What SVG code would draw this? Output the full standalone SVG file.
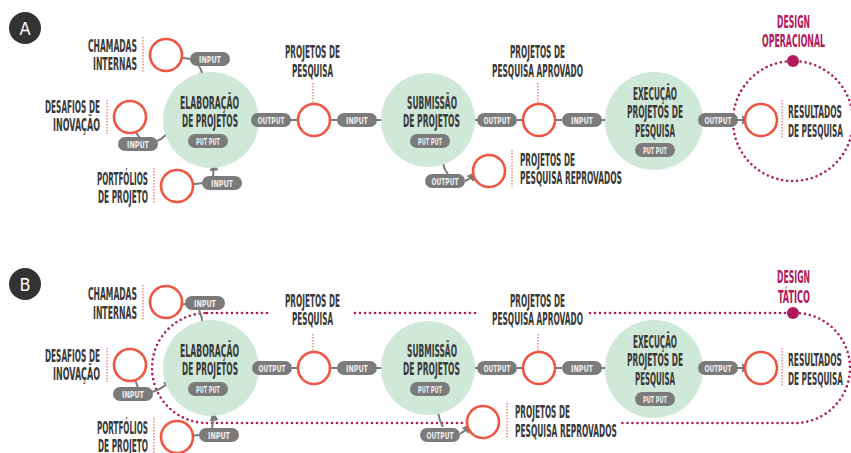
<svg xmlns="http://www.w3.org/2000/svg" width="851" height="453" viewBox="0 0 851 453">
<defs>
<marker id="ah" markerUnits="userSpaceOnUse" markerWidth="11" markerHeight="11" refX="9" refY="5.5" orient="auto">
<path d="M0,1 L10,5.5 L0,10 z" fill="#7b7b7b"/>
</marker>
</defs>
<style>
.lbl{font-family:"DejaVu Sans Condensed","DejaVu Sans",sans-serif;font-stretch:condensed;font-weight:bold;font-size:17px;fill:#383838}
.mg{fill:#b3185a}
.pt{font-family:"DejaVu Sans Condensed","DejaVu Sans",sans-serif;font-stretch:condensed;font-weight:bold;font-size:9px;fill:#eeeeee;text-anchor:middle}
.pill{fill:#7b7b7b}
.green{fill:#cfe8d8}
.red{fill:#ffffff;stroke:#ef5540;stroke-width:2.6}
.vd{stroke:#f08a7a;stroke-width:1.5;stroke-dasharray:1.5 1.5;fill:none}
.ln{fill:none;stroke:#7b7b7b;stroke-width:2}
.arr{fill:none;stroke:#7b7b7b;stroke-width:2;marker-end:url(#ah)}
.mag{fill:none;stroke:#b3185a;stroke-width:2.6;stroke-dasharray:0 5;stroke-linecap:round}
.badge{font-family:"DejaVu Sans Condensed","DejaVu Sans",sans-serif;font-size:18px;fill:#ffffff;text-anchor:middle}
</style>
<rect width="851" height="453" fill="#ffffff"/>

<!-- ================= PANEL A ================= -->
<g id="panel-a">
<g id="scope-a">
<circle cx="793" cy="121" r="60" class="mag"/>
<circle cx="793" cy="61" r="6" fill="#b3185a"/>
<text class="lbl mg" x="777" y="28" textLength="33" lengthAdjust="spacingAndGlyphs">DESIGN</text>
<text class="lbl mg" x="762" y="47" textLength="63" lengthAdjust="spacingAndGlyphs">OPERACIONAL</text>
</g>
<g id="badge-a"><circle cx="25" cy="28" r="16" fill="#333333"/><text class="badge" x="25" y="35">A</text></g>

<g id="connectors-a">
<path class="ln" d="M176,57 L191,59"/>
<path class="arr" d="M199,66 Q203,72 203,82"/>
<path class="ln" d="M133,125 Q136,134 140,138"/>
<path class="arr" d="M157,141 Q166,138 173,124"/>
<path class="ln" d="M187,185 L203,183"/>
<path class="arr" d="M213,177 Q214,170 213,162"/>
<path class="ln" d="M246,120 L291,120"/>
<path class="ln" d="M290,120 L298,120"/>
<path class="ln" d="M330,120 L338,120"/>
<path class="arr" d="M376,120 L391,120"/>
<path class="ln" d="M470,120 L478,120"/>
<path class="ln" d="M517,120 L523,120"/>
<path class="ln" d="M555,120 L562,120"/>
<path class="arr" d="M601,120 L615,120"/>
<path class="ln" d="M702,120 L706,120"/>
<path class="arr" d="M737,120 L751,120"/>
<path class="ln" d="M443,162 Q444,170 448,174"/>
<path class="arr" d="M465,181 Q470,179 476,172"/>
</g>

<g id="chamadas-a">
<text class="lbl" x="88" y="52" textLength="49" lengthAdjust="spacingAndGlyphs">CHAMADAS</text>
<text class="lbl" x="93" y="70" textLength="44" lengthAdjust="spacingAndGlyphs">INTERNAS</text>
<line class="vd" x1="143" y1="37" x2="143" y2="72"/>
<circle class="red" cx="166" cy="55" r="16"/>
<rect class="pill" x="190" y="52" width="40" height="14" rx="7"/><text class="pt" x="210" y="62.5" textLength="22" lengthAdjust="spacingAndGlyphs">INPUT</text>
</g>
<g id="desafios-a">
<text class="lbl" x="45" y="113" textLength="55" lengthAdjust="spacingAndGlyphs">DESAFIOS DE</text>
<text class="lbl" x="53" y="131" textLength="47" lengthAdjust="spacingAndGlyphs">INOVAÇÃO</text>
<line class="vd" x1="107" y1="100" x2="107" y2="134"/>
<circle class="red" cx="130" cy="117" r="16"/>
<rect class="pill" x="118" y="137" width="40" height="14" rx="7"/><text class="pt" x="138" y="147.5" textLength="22" lengthAdjust="spacingAndGlyphs">INPUT</text>
</g>
<g id="portfolios-a">
<text class="lbl" x="97" y="185" textLength="51" lengthAdjust="spacingAndGlyphs">PORTFÓLIOS</text>
<text class="lbl" x="98" y="203" textLength="50" lengthAdjust="spacingAndGlyphs">DE PROJETO</text>
<line class="vd" x1="154" y1="168" x2="154" y2="203"/>
<circle class="red" cx="177" cy="186" r="16"/>
<rect class="pill" x="202" y="176" width="40" height="14" rx="7"/><text class="pt" x="222" y="186.5" textLength="22" lengthAdjust="spacingAndGlyphs">INPUT</text>
</g>
<g id="elaboracao-a">
<circle class="green" cx="211" cy="120" r="48"/>
<text class="lbl" x="180" y="109" textLength="59" lengthAdjust="spacingAndGlyphs">ELABORAÇÃO</text>
<text class="lbl" x="182" y="127" textLength="56" lengthAdjust="spacingAndGlyphs">DE PROJETOS</text>
<rect class="pill" x="188" y="134" width="40" height="14" rx="7"/><text class="pt" x="208" y="144.5" textLength="24" lengthAdjust="spacingAndGlyphs">PUT PUT</text>
<rect class="pill" x="251" y="113" width="40" height="14" rx="7"/><text class="pt" x="271" y="123.5" textLength="27" lengthAdjust="spacingAndGlyphs">OUTPUT</text>
</g>
<g id="projetos-pesquisa-a">
<text class="lbl" x="285" y="58" textLength="55" lengthAdjust="spacingAndGlyphs">PROJETOS DE</text>
<text class="lbl" x="292" y="77" textLength="41" lengthAdjust="spacingAndGlyphs">PESQUISA</text>
<line class="vd" x1="313" y1="83" x2="313" y2="103"/>
<circle class="red" cx="314" cy="120" r="16"/>
<rect class="pill" x="337" y="113" width="40" height="14" rx="7"/><text class="pt" x="357" y="123.5" textLength="22" lengthAdjust="spacingAndGlyphs">INPUT</text>
</g>
<g id="submissao-a">
<circle class="green" cx="428" cy="120" r="47"/>
<text class="lbl" x="407" y="109" textLength="50" lengthAdjust="spacingAndGlyphs">SUBMISSÃO</text>
<text class="lbl" x="403" y="127" textLength="57" lengthAdjust="spacingAndGlyphs">DE PROJETOS</text>
<rect class="pill" x="410" y="134" width="40" height="14" rx="7"/><text class="pt" x="430" y="144.5" textLength="24" lengthAdjust="spacingAndGlyphs">PUT PUT</text>
<rect class="pill" x="477" y="113" width="40" height="14" rx="7"/><text class="pt" x="497" y="123.5" textLength="27" lengthAdjust="spacingAndGlyphs">OUTPUT</text>
<rect class="pill" x="425" y="174" width="40" height="14" rx="7"/><text class="pt" x="445" y="184.5" textLength="27" lengthAdjust="spacingAndGlyphs">OUTPUT</text>
</g>
<g id="aprovado-a">
<text class="lbl" x="510" y="58" textLength="55" lengthAdjust="spacingAndGlyphs">PROJETOS DE</text>
<text class="lbl" x="492" y="77" textLength="91" lengthAdjust="spacingAndGlyphs">PESQUISA APROVADO</text>
<line class="vd" x1="538" y1="83" x2="538" y2="103"/>
<circle class="red" cx="539" cy="120" r="16"/>
<rect class="pill" x="562" y="113" width="40" height="14" rx="7"/><text class="pt" x="582" y="123.5" textLength="22" lengthAdjust="spacingAndGlyphs">INPUT</text>
</g>
<g id="reprovados-a">
<circle class="red" cx="489" cy="171" r="16"/>
<line class="vd" x1="512" y1="150" x2="512" y2="187"/>
<text class="lbl" x="520" y="166" textLength="55" lengthAdjust="spacingAndGlyphs">PROJETOS DE</text>
<text class="lbl" x="520" y="184" textLength="102" lengthAdjust="spacingAndGlyphs">PESQUISA REPROVADOS</text>
</g>
<g id="execucao-a">
<circle class="green" cx="654" cy="121" r="49"/>
<text class="lbl" x="633" y="100" textLength="44" lengthAdjust="spacingAndGlyphs">EXECUÇÃO</text>
<text class="lbl" x="627" y="118" textLength="56" lengthAdjust="spacingAndGlyphs">PROJETOS DE</text>
<text class="lbl" x="635" y="137" textLength="40" lengthAdjust="spacingAndGlyphs">PESQUISA</text>
<rect class="pill" x="635" y="143" width="40" height="14" rx="7"/><text class="pt" x="655" y="153.5" textLength="24" lengthAdjust="spacingAndGlyphs">PUT PUT</text>
<rect class="pill" x="698" y="113" width="40" height="14" rx="7"/><text class="pt" x="718" y="123.5" textLength="27" lengthAdjust="spacingAndGlyphs">OUTPUT</text>
</g>
<g id="resultados-a">
<circle class="red" cx="761" cy="120" r="16"/>
<line class="vd" x1="782" y1="100" x2="782" y2="138"/>
<text class="lbl" x="788" y="118" textLength="54" lengthAdjust="spacingAndGlyphs">RESULTADOS</text>
<text class="lbl" x="788" y="137" textLength="55" lengthAdjust="spacingAndGlyphs">DE PESQUISA</text>
</g>
</g>

<!-- ================= PANEL B ================= -->
<g id="panel-b" transform="translate(0,248)">
<g id="scope-b">
<path class="mag" d="M207,65 L268,65 M355,65 L479,65 M590,65 L795,65 A55,55 0 0 1 795,175 L620,175 M462,175 L207,175 A55,55 0 0 1 207,65"/>
<circle cx="793" cy="65" r="6" fill="#b3185a"/>
<text class="lbl mg" x="777" y="35" textLength="33" lengthAdjust="spacingAndGlyphs">DESIGN</text>
<text class="lbl mg" x="778" y="55" textLength="32" lengthAdjust="spacingAndGlyphs">TÁTICO</text>
</g>
<g id="badge-b"><circle cx="25" cy="36" r="16" fill="#333333"/><text class="badge" x="25" y="43">B</text></g>

<g id="connectors-b">
<path class="ln" d="M176,57 L186,56"/>
<path class="arr" d="M199,62 Q203,70 203,84"/>
<path class="ln" d="M133,125 Q136,134 138,140"/>
<path class="arr" d="M152,144 Q163,141 172,131"/>
<path class="ln" d="M187,188 L200,187"/>
<path class="arr" d="M212,180 Q214,172 213,164"/>
<path class="ln" d="M246,120 L253,120"/>
<path class="ln" d="M291,120 L298,120"/>
<path class="ln" d="M330,120 L338,120"/>
<path class="arr" d="M376,120 L391,120"/>
<path class="ln" d="M470,120 L478,120"/>
<path class="ln" d="M517,120 L523,120"/>
<path class="ln" d="M555,120 L562,120"/>
<path class="arr" d="M601,120 L615,120"/>
<path class="ln" d="M702,120 L706,120"/>
<path class="arr" d="M737,120 L751,120"/>
<path class="ln" d="M438,163 Q439,172 443,179"/>
<path class="arr" d="M460,186 Q465,183 471,176"/>
</g>

<g id="chamadas-b">
<text class="lbl" x="88" y="52" textLength="49" lengthAdjust="spacingAndGlyphs">CHAMADAS</text>
<text class="lbl" x="93" y="71" textLength="44" lengthAdjust="spacingAndGlyphs">INTERNAS</text>
<line class="vd" x1="143" y1="37" x2="143" y2="72"/>
<circle class="red" cx="166" cy="54" r="16"/>
<rect class="pill" x="185" y="48" width="40" height="14" rx="7"/><text class="pt" x="205" y="58.5" textLength="22" lengthAdjust="spacingAndGlyphs">INPUT</text>
</g>
<g id="desafios-b">
<text class="lbl" x="45" y="114" textLength="55" lengthAdjust="spacingAndGlyphs">DESAFIOS DE</text>
<text class="lbl" x="53" y="132" textLength="47" lengthAdjust="spacingAndGlyphs">INOVAÇÃO</text>
<line class="vd" x1="107" y1="100" x2="107" y2="134"/>
<circle class="red" cx="130" cy="117" r="16"/>
<rect class="pill" x="113" y="139" width="40" height="14" rx="7"/><text class="pt" x="133" y="149.5" textLength="22" lengthAdjust="spacingAndGlyphs">INPUT</text>
</g>
<g id="portfolios-b">
<text class="lbl" x="97" y="186" textLength="51" lengthAdjust="spacingAndGlyphs">PORTFÓLIOS</text>
<text class="lbl" x="98" y="204" textLength="50" lengthAdjust="spacingAndGlyphs">DE PROJETO</text>
<line class="vd" x1="154" y1="170" x2="154" y2="205"/>
<circle class="red" cx="177" cy="189" r="16"/>
<rect class="pill" x="199" y="180" width="40" height="14" rx="7"/><text class="pt" x="219" y="190.5" textLength="22" lengthAdjust="spacingAndGlyphs">INPUT</text>
</g>
<g id="elaboracao-b">
<circle class="green" cx="211" cy="120" r="48"/>
<text class="lbl" x="180" y="109" textLength="59" lengthAdjust="spacingAndGlyphs">ELABORAÇÃO</text>
<text class="lbl" x="182" y="127" textLength="56" lengthAdjust="spacingAndGlyphs">DE PROJETOS</text>
<rect class="pill" x="188" y="134" width="40" height="14" rx="7"/><text class="pt" x="208" y="144.5" textLength="24" lengthAdjust="spacingAndGlyphs">PUT PUT</text>
<rect class="pill" x="252" y="113" width="40" height="14" rx="7"/><text class="pt" x="272" y="123.5" textLength="27" lengthAdjust="spacingAndGlyphs">OUTPUT</text>
</g>
<g id="projetos-pesquisa-b">
<text class="lbl" x="285" y="59" textLength="55" lengthAdjust="spacingAndGlyphs">PROJETOS DE</text>
<text class="lbl" x="292" y="77" textLength="41" lengthAdjust="spacingAndGlyphs">PESQUISA</text>
<line class="vd" x1="313" y1="86" x2="313" y2="103"/>
<circle class="red" cx="314" cy="120" r="16"/>
<rect class="pill" x="337" y="113" width="40" height="14" rx="7"/><text class="pt" x="357" y="123.5" textLength="22" lengthAdjust="spacingAndGlyphs">INPUT</text>
</g>
<g id="submissao-b">
<circle class="green" cx="428" cy="120" r="47"/>
<text class="lbl" x="407" y="109" textLength="50" lengthAdjust="spacingAndGlyphs">SUBMISSÃO</text>
<text class="lbl" x="403" y="127" textLength="57" lengthAdjust="spacingAndGlyphs">DE PROJETOS</text>
<rect class="pill" x="410" y="134" width="40" height="14" rx="7"/><text class="pt" x="430" y="144.5" textLength="24" lengthAdjust="spacingAndGlyphs">PUT PUT</text>
<rect class="pill" x="477" y="113" width="40" height="14" rx="7"/><text class="pt" x="497" y="123.5" textLength="27" lengthAdjust="spacingAndGlyphs">OUTPUT</text>
<rect class="pill" x="420" y="180" width="40" height="14" rx="7"/><text class="pt" x="440" y="190.5" textLength="27" lengthAdjust="spacingAndGlyphs">OUTPUT</text>
</g>
<g id="aprovado-b">
<text class="lbl" x="510" y="59" textLength="55" lengthAdjust="spacingAndGlyphs">PROJETOS DE</text>
<text class="lbl" x="492" y="77" textLength="91" lengthAdjust="spacingAndGlyphs">PESQUISA APROVADO</text>
<line class="vd" x1="538" y1="86" x2="538" y2="103"/>
<circle class="red" cx="539" cy="120" r="16"/>
<rect class="pill" x="562" y="113" width="40" height="14" rx="7"/><text class="pt" x="582" y="123.5" textLength="22" lengthAdjust="spacingAndGlyphs">INPUT</text>
</g>
<g id="reprovados-b">
<circle class="red" cx="483" cy="174" r="16"/>
<line class="vd" x1="507" y1="155" x2="507" y2="190"/>
<text class="lbl" x="515" y="170" textLength="55" lengthAdjust="spacingAndGlyphs">PROJETOS DE</text>
<text class="lbl" x="515" y="189" textLength="102" lengthAdjust="spacingAndGlyphs">PESQUISA REPROVADOS</text>
</g>
<g id="execucao-b">
<circle class="green" cx="654" cy="121" r="49"/>
<text class="lbl" x="633" y="100" textLength="44" lengthAdjust="spacingAndGlyphs">EXECUÇÃO</text>
<text class="lbl" x="627" y="118" textLength="56" lengthAdjust="spacingAndGlyphs">PROJETOS DE</text>
<text class="lbl" x="635" y="137" textLength="40" lengthAdjust="spacingAndGlyphs">PESQUISA</text>
<rect class="pill" x="635" y="144" width="40" height="14" rx="7"/><text class="pt" x="655" y="154.5" textLength="24" lengthAdjust="spacingAndGlyphs">PUT PUT</text>
<rect class="pill" x="698" y="113" width="40" height="14" rx="7"/><text class="pt" x="718" y="123.5" textLength="27" lengthAdjust="spacingAndGlyphs">OUTPUT</text>
</g>
<g id="resultados-b">
<circle class="red" cx="761" cy="120" r="16"/>
<line class="vd" x1="782" y1="100" x2="782" y2="138"/>
<text class="lbl" x="788" y="118" textLength="54" lengthAdjust="spacingAndGlyphs">RESULTADOS</text>
<text class="lbl" x="788" y="137" textLength="55" lengthAdjust="spacingAndGlyphs">DE PESQUISA</text>
</g>
</g>
</svg>
